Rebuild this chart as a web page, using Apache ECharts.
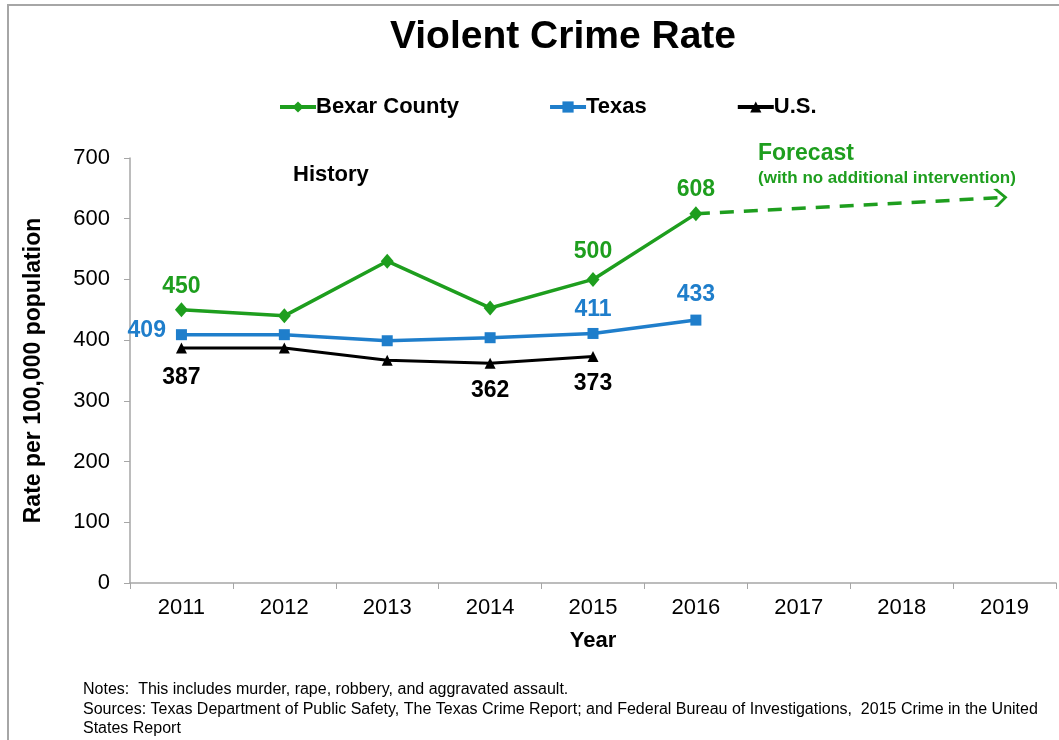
<!DOCTYPE html>
<html>
<head>
<meta charset="utf-8">
<script src="https://cdn.jsdelivr.net/npm/echarts@6/dist/echarts.min.js"></script>
<style>
html,body{margin:0;padding:0;background:#fff;}
#chart{width:1059px;height:740px;}
</style>
</head>
<body>
<div id="chart"></div>
<script>
const years = ['2011','2012','2013','2014','2015','2016','2017','2018','2019'];
const bexar = [450, 440, 530, 453, 500, 608];
const texas = [409, 409, 399, 404, 411, 433];
const us = [387, 387, 367, 362, 373];
const forecastFrom = ['2016', 608];
const forecastTo = ['2019', 635];
const yTicks = [0, 100, 200, 300, 400, 500, 600, 700];

const GREEN = '#1E9E1E';
const BLUE = '#1F7ECB';
const BLACK = '#000000';
const FONT = '"Liberation Sans", Arial, sans-serif';

// label placement per point index: [position, distance, offsetY]
const bexarLabelIdx = {0: ['top', 4, 0], 4: ['top', 9, 0], 5: ['top', 5, 0]};
const texasLabelIdx = {0: ['left', 10, -4], 4: ['top', 7, 0], 5: ['top', 8, 0]};
const usLabelIdx = {0: ['bottom', 13, 0], 3: ['bottom', 10, 0], 4: ['bottom', 10, 0]};

function withLabels(vals, map, color) {
  return vals.map((v, i) => {
    if (map[i] === undefined) return {value: v};
    return {
      value: v,
      label: {
        show: true, position: map[i][0], distance: map[i][1], offset: [0, map[i][2]],
        color: color, fontSize: 23, fontWeight: 'bold', fontFamily: FONT
      }
    };
  });
}

const chart = echarts.init(document.getElementById('chart'));
chart.setOption({
  animation: false,
  backgroundColor: '#fff',
  title: {
    text: 'Violent Crime Rate', top: 13,
    left: 558, textAlign: 'center',
    textStyle: {fontSize: 39, fontWeight: 'bold', color: '#000', fontFamily: FONT}
  },
  legend: {
    data: ['Bexar County', 'Texas', 'U.S.'],
    left: 273, top: 91, itemGap: 89, itemWidth: 36, itemHeight: 14,
    lineStyle: {width: 4},
    textStyle: {fontSize: 22, fontWeight: 'bold', color: '#000', fontFamily: FONT, padding: [0,0,0,-5]}
  },
  grid: {left: 130, right: 3, top: 158, bottom: 157},
  xAxis: {
    type: 'category', data: years, boundaryGap: true,
    name: 'Year', nameLocation: 'middle', nameGap: 47,
    nameTextStyle: {fontSize: 22, fontWeight: 'bold', color: '#000', fontFamily: FONT},
    axisLine: {lineStyle: {color: '#A6A6A6', width: 1.5}},
    axisTick: {show: true, alignWithLabel: false, interval: 0, length: 6, lineStyle: {color: '#A6A6A6'}},
    axisLabel: {fontSize: 22, color: '#000', fontFamily: FONT, margin: 14}
  },
  yAxis: {
    type: 'value', min: 0, max: 700, interval: 100,
    name: 'Rate per 100,000 population', nameLocation: 'middle', nameGap: 85,
    nameTextStyle: {fontSize: 23, fontWeight: 'bold', color: '#000', fontFamily: FONT},
    axisLine: {show: true, lineStyle: {color: '#A6A6A6', width: 1.5}},
    axisTick: {show: true, length: 6, lineStyle: {color: '#A6A6A6'}},
    splitLine: {show: false},
    axisLabel: {fontSize: 22, color: '#000', fontFamily: FONT, margin: 20,
      formatter: v => yTicks.includes(v) ? String(v) : ''}
  },
  series: [
    {
      name: 'Bexar County', type: 'line', data: withLabels(bexar, bexarLabelIdx, GREEN),
      symbol: 'diamond', symbolSize: [13, 15], lineStyle: {color: GREEN, width: 3.5},
      itemStyle: {color: GREEN}, z: 4
    },
    {
      name: 'Texas', type: 'line', data: withLabels(texas, texasLabelIdx, BLUE),
      symbol: 'rect', symbolSize: 11, lineStyle: {color: BLUE, width: 3.5},
      itemStyle: {color: BLUE}, z: 3
    },
    {
      name: 'U.S.', type: 'line', data: withLabels(us, usLabelIdx, BLACK),
      symbol: 'triangle', symbolSize: 11, lineStyle: {color: BLACK, width: 3},
      itemStyle: {color: BLACK}, z: 2
    },
    {
      name: 'Forecast', type: 'line', data: [], silent: true,
      markLine: {
        silent: true,
        symbol: ['none', 'path://M0,12 L10,0 L20,12 L20,17 L10,5 L0,17 Z'],
        symbolSize: [18, 14],
        symbolOffset: [0, [0, 4]],
        label: {show: false},
        lineStyle: {color: GREEN, width: 3.5, type: [14, 10]},
        data: [[{coord: forecastFrom}, {coord: forecastTo}]]
      }
    }
  ],
  graphic: [
    {type: 'rect', shape: {x: 8, y: 5, width: 1200, height: 900},
     style: {fill: 'none', stroke: '#A6A6A6', lineWidth: 2}, silent: true},
    {type: 'text', left: 293, top: 164,
     style: {text: 'History', font: 'bold 22px ' + FONT, fill: '#000'}},
    {type: 'text', left: 758, top: 142,
     style: {text: 'Forecast', font: 'bold 23px ' + FONT, fill: GREEN}},
    {type: 'text', left: 758, top: 170,
     style: {text: '(with no additional intervention)', font: 'bold 17px ' + FONT, fill: GREEN}},
    {type: 'text', left: 83, top: 682,
     style: {text: 'Notes:  This includes murder, rape, robbery, and aggravated assault.', font: '16px ' + FONT, fill: '#000'}},
    {type: 'text', left: 83, top: 702,
     style: {text: 'Sources: Texas Department of Public Safety, The Texas Crime Report; and Federal Bureau of Investigations,  2015 Crime in the United', font: '16px ' + FONT, fill: '#000'}},
    {type: 'text', left: 83, top: 721,
     style: {text: 'States Report', font: '16px ' + FONT, fill: '#000'}}
  ]
});
</script>
</body>
</html>
